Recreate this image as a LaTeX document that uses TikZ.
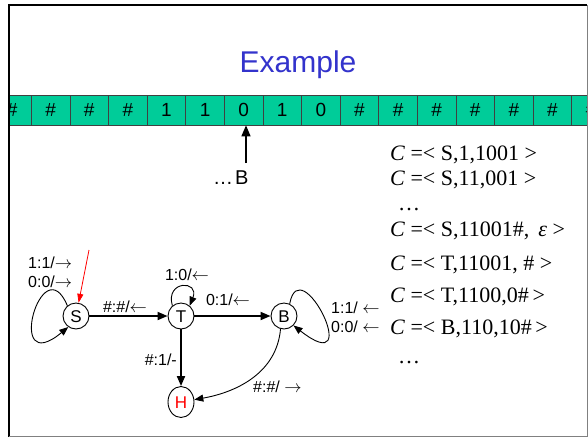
\documentclass[tikz,border=0pt]{standalone}
\usepackage{fontspec}
\setmainfont{Liberation Sans}
\newfontfamily\timesf{Liberation Serif}
\usetikzlibrary{arrows.meta,shapes.geometric}
\definecolor{tapegreen}{RGB}{0,204,153}
\definecolor{titleblue}{RGB}{51,51,204}
\definecolor{framegray}{RGB}{128,128,128}
\begin{document}
\begin{tikzpicture}[x=1pt,y=-1pt,
  st/.style={circle,draw,line width=0.9pt,minimum size=26pt,inner sep=0pt,
    font=\fontsize{17}{17}\selectfont,text height=12.2pt,text depth=0pt},
  lbl/.style={font=\fontsize{16}{16}\selectfont,inner sep=0pt,text height=11.5pt,text depth=0pt},
  cfg/.style={font=\timesf\fontsize{22}{22}\selectfont,anchor=west,inner sep=0pt,
    text height=14.6pt,text depth=0pt},
  thickarr/.style={line width=1.8pt,-{Triangle[length=10pt,width=8pt]}},
  thinarr/.style={line width=0.9pt,-{Triangle[length=9pt,width=7pt]}},
  cell/.style={draw=black!75,line width=0.7pt,fill=tapegreen,minimum width=38.6pt,
    minimum height=30pt,inner sep=0pt,font=\fontsize{19}{19}\selectfont,
    text height=13.6pt,text depth=0pt,anchor=west}]
\useasboundingbox (0,0) rectangle (588,437);
\fill[white] (0,0) rectangle (588,437);
% title
\node[font=\fontsize{30}{30}\selectfont,text=titleblue,anchor=base,inner sep=0pt] (title) at (298,72) {Example};
% tape
\begin{scope}
\clip (9,0) rectangle (588,437);
\foreach \t [count=\i from 0] in {\#,\#,\#,\#,1,1,0,1,0,\#,\#,\#,\#,\#,\#,\#}
  \node[cell] (c\i) at ({-7.6+38.6*\i},110) {\t};
\end{scope}
% frame
\draw[line width=2pt] (9,437) -- (9,5);
\draw[line width=1.5pt] (8,5) -- (587,5);
\draw[framegray,line width=1pt] (587,5) -- (587,436) -- (9,436);
% head
\coordinate (ab) at (246,163);
\draw[line width=1.5pt,-{Triangle[length=11pt,width=9pt]}] (ab) -- (ab |- c6.south);
\node[font=\fontsize{20}{20}\selectfont,anchor=west,inner sep=0pt,text height=14.3pt,text depth=0pt] (hd) at (213,177) {…\hspace{2pt}B};
% configurations
\node[cfg] (k1) at (390,153) {\textit{C} =<\ S,1,1001 >};
\node[cfg] (k2) at (390,178) {\textit{C} =<\ S,11,001 >};
\node[cfg] (k3) at (398,203) {…};
\node[cfg] (k4) at (390,229) {\textit{C} =<\ S,11001\#,\ \,\textit{ε}\ >};
\node[cfg] (k5) at (390,263) {\textit{C} =<\ T,11001,\ \# >};
\node[cfg] (k6) at (390,295) {\textit{C} =<\ T,1100,0\#\,>};
\node[cfg] (k7) at (390,327) {\textit{C} =<\ B,110,10\#\,>};
\node[cfg] (k8) at (398,356) {…};
% states
\node[st] (S) at (76,316) {S};
\node[st] (T) at (181,316) {T};
\node[st] (B) at (284,316) {B};
\node[st,ellipse,minimum width=26pt,minimum height=31pt,text=red] (H) at (181,402) {H};
% edges
\draw[thickarr] (S) -- (T);
\draw[thickarr] (T) -- (B);
\draw[thickarr] (T) -- (H);
\draw[thinarr] (B.-105) to[out=-95,in=10] (H);
\draw[thinarr] (S.130) .. controls (42,245) and (4,380) .. (S.-125);
\draw[thinarr] (T.130) .. controls (165,280) and (200,280) .. (T.50);
\draw[thinarr] (B.65) .. controls (300,248) and (366,382) .. (B.-45);
\coordinate (r0) at (89,250);
\draw[red,line width=0.8pt,-{Triangle[length=9pt,width=6pt]}] (r0) -- (S);
% labels
\node[lbl,anchor=west] (l1) at (28,263) {1:1/$\rightarrow$};
\node[lbl,anchor=west] (l2) at (28,282) {0:0/$\rightarrow$};
\node[lbl] (l3) at (125,307) {\#:\#/$\leftarrow$};
\node[lbl] (l4) at (187,275) {1:0/$\leftarrow$};
\node[lbl] (l5) at (228,300) {0:1/$\leftarrow$};
\node[lbl,anchor=west] (l6) at (331,308) {1:1/ $\leftarrow$};
\node[lbl,anchor=west] (l7) at (331,327) {0:0/ $\leftarrow$};
\node[lbl,anchor=east] (l8) at (177,360) {\#:1/-};
\node[lbl,anchor=west] (l9) at (253,387) {\#:\#/ $\rightarrow$};
\end{tikzpicture}
\end{document}
